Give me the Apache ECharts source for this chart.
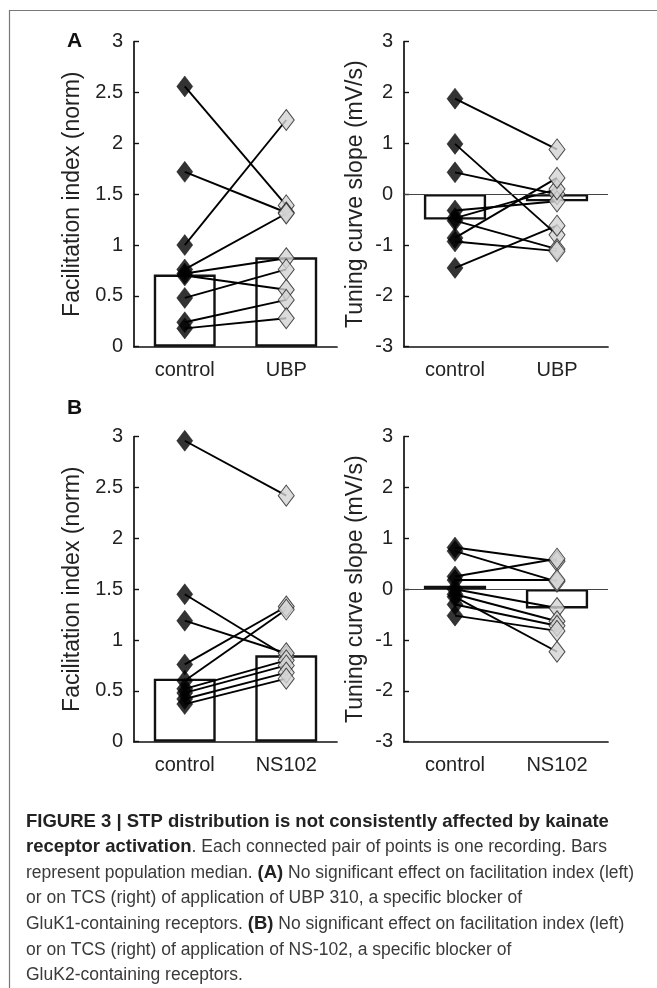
<!DOCTYPE html>
<html>
<head>
<meta charset="utf-8">
<script src="https://cdn.jsdelivr.net/npm/echarts@6/dist/echarts.min.js"></script>
<style>
html,body{margin:0;padding:0;background:#fff;}
#chart{width:657px;height:988px;}
</style>
</head>
<body>
<div id="chart"></div>
<script>
// ---- data ----
var catsA = ['control', 'UBP'];
var catsB = ['control', 'NS102'];
var facTicks = ['0', '0.5', '1', '1.5', '2', '2.5', '3'];
var tcsTicks = ['-3', '-2', '-1', '0', '1', '2', '3'];

// Panel A, facilitation index
var aFacCtrl = [2.56, 1.72, 1.00, 0.76, 0.72, 0.70, 0.48, 0.24, 0.18];
var aFacUbp  = [1.39, 1.32, 2.23, 1.31, 0.87, 0.56, 0.76, 0.46, 0.28];
var aFacMed  = [0.71, 0.88];
// Panel A, tuning curve slope
var aTcsCtrl = [1.88, 0.99, 0.43, -0.32, -0.47, -0.52, -0.86, -0.93, -1.45];
var aTcsUbp  = [0.88, -0.80, 0.00, -0.14, 0.10, -1.08, 0.32, -1.12, -0.62];
var aTcsMed  = [-0.50, -0.14];
// Panel B, facilitation index
var bFacCtrl = [2.96, 1.45, 1.19, 0.76, 0.60, 0.52, 0.48, 0.42, 0.37];
var bFacNs   = [2.42, 0.84, 0.87, 1.33, 1.30, 0.80, 0.75, 0.68, 0.62];
var bFacMed  = [0.62, 0.85];
// Panel B, tuning curve slope
var bTcsCtrl = [0.82, 0.75, 0.25, 0.18, 0.00, -0.10, -0.15, -0.30, -0.52];
var bTcsNs   = [0.55, 0.15, 0.60, 0.18, -0.37, -0.63, -1.23, -0.72, -0.82];
var bTcsMed  = [0.07, -0.38];

var FONT = 'Liberation Sans, Arial, Helvetica, sans-serif';
var panels = [
  {grid:{left:134, top:41.7, width:203, height:305}, cats:catsA, ctrl:aFacCtrl, trt:aFacUbp, med:aFacMed, min:0, max:3, interval:0.5, name:'Facilitation index (norm)', gap:50, zero:false},
  {grid:{left:404, top:41.7, width:204, height:305}, cats:catsA, ctrl:aTcsCtrl, trt:aTcsUbp, med:aTcsMed, min:-3, max:3, interval:1, name:'Tuning curve slope (mV/s)', gap:37, zero:true},
  {grid:{left:134, top:436.7, width:203, height:305}, cats:catsB, ctrl:bFacCtrl, trt:bFacNs, med:bFacMed, min:0, max:3, interval:0.5, name:'Facilitation index (norm)', gap:50, zero:false},
  {grid:{left:404, top:436.7, width:204, height:305}, cats:catsB, ctrl:bTcsCtrl, trt:bTcsNs, med:bTcsMed, min:-3, max:3, interval:1, name:'Tuning curve slope (mV/s)', gap:37, zero:true}
];

var grids = [], xAxes = [], yAxes = [], series = [];
panels.forEach(function (p, i) {
  grids.push(p.grid);
  xAxes.push({
    type:'category', gridIndex:i, data:p.cats, boundaryGap:true,
    axisLine:{onZero:false, lineStyle:{color:'#111', width:1.7}},
    axisTick:{inside:true, alignWithLabel:true, length:5, lineStyle:{color:'#111', width:1.4}},
    axisLabel:{fontSize:20, color:'#222', fontFamily:FONT, margin:14},
    splitLine:{show:false}
  });
  yAxes.push({
    type:'value', gridIndex:i, min:p.min, max:p.max, interval:p.interval,
    name:p.name, nameLocation:'middle', nameGap:p.gap,
    nameTextStyle:{fontSize:23, color:'#222', fontFamily:FONT},
    axisLine:{show:true, lineStyle:{color:'#111', width:1.7}},
    axisTick:{show:true, inside:true, length:5, lineStyle:{color:'#111', width:1.4}},
    axisLabel:{fontSize:20, color:'#222', fontFamily:FONT, margin:11},
    splitLine:{show:false}
  });
  var bar = {
    type:'bar', xAxisIndex:i, yAxisIndex:i, data:p.med, barWidth:'61%', z:1,
    itemStyle:{color:'#fff', borderColor:'#111', borderWidth:2.4},
    silent:true, animation:false
  };
  if (p.zero) {
    bar.markLine = {silent:true, symbol:'none', label:{show:false},
      lineStyle:{color:'#444', width:1, type:'solid'}, data:[{yAxis:0}], animation:false};
  }
  series.push(bar);
  for (var k = 0; k < p.ctrl.length; k++) {
    series.push({
      type:'line', xAxisIndex:i, yAxisIndex:i, data:[p.ctrl[k], p.trt[k]],
      symbol:'none', z:3, lineStyle:{color:'#000', width:1.9}, silent:true, animation:false
    });
  }
  series.push({
    type:'scatter', xAxisIndex:i, yAxisIndex:i, z:5, animation:false, silent:true,
    symbol:'diamond', symbolSize:[16, 21],
    data:p.trt.map(function (v) { return [1, v]; }),
    itemStyle:{color:'#d3d3d3', borderColor:'#222', borderWidth:1}
  });
  series.push({
    type:'scatter', xAxisIndex:i, yAxisIndex:i, z:6, animation:false, silent:true,
    symbol:'diamond', symbolSize:[16, 21],
    data:p.ctrl.map(function (v) { return [0, v]; }),
    itemStyle:{color:'#000', borderColor:'#000', borderWidth:0.5}
  });
});

var caption =
  '{b|FIGURE 3 | STP distribution is not consistently affected by kainate}\n' +
  '{b|receptor activation}{n|. Each connected pair of points is one recording. Bars}\n' +
  '{n|represent population median. }{b|(A)}{n| No significant effect on facilitation index (left)}\n' +
  '{n|or on TCS (right) of application of UBP 310, a specific blocker of}\n' +
  '{n|GluK1-containing receptors. }{b|(B)}{n| No significant effect on facilitation index (left)}\n' +
  '{n|or on TCS (right) of application of NS-102, a specific blocker of}\n' +
  '{n|GluK2-containing receptors.}';

var chart = echarts.init(document.getElementById('chart'), null, {renderer:'canvas'});
chart.setOption({
  backgroundColor:'#fff',
  animation:false,
  grid:grids, xAxis:xAxes, yAxis:yAxes, series:series,
  graphic:[
    {type:'polyline', silent:true, shape:{points:[[9.5, 988], [9.5, 10.5], [657, 10.5]]},
      style:{stroke:'#777', lineWidth:1.2, fill:null}},
    {type:'text', left:67, top:31, silent:true,
      style:{text:'A', fontSize:21, fontWeight:'bold', fill:'#111', fontFamily:FONT}},
    {type:'text', left:67, top:398, silent:true,
      style:{text:'B', fontSize:21, fontWeight:'bold', fill:'#111', fontFamily:FONT}},
    {type:'text', left:26, top:809, silent:true,
      style:{text:caption, fontFamily:FONT, fontSize:17.5, lineHeight:25.6, fill:'#333',
        rich:{
          b:{fontWeight:'bold', fontSize:18.5, lineHeight:25.6, fill:'#222', fontFamily:FONT},
          n:{fontWeight:'normal', fontSize:17.5, lineHeight:25.6, fill:'#3a3a3a', fontFamily:FONT}
        }}}
  ]
});
</script>
</body>
</html>
